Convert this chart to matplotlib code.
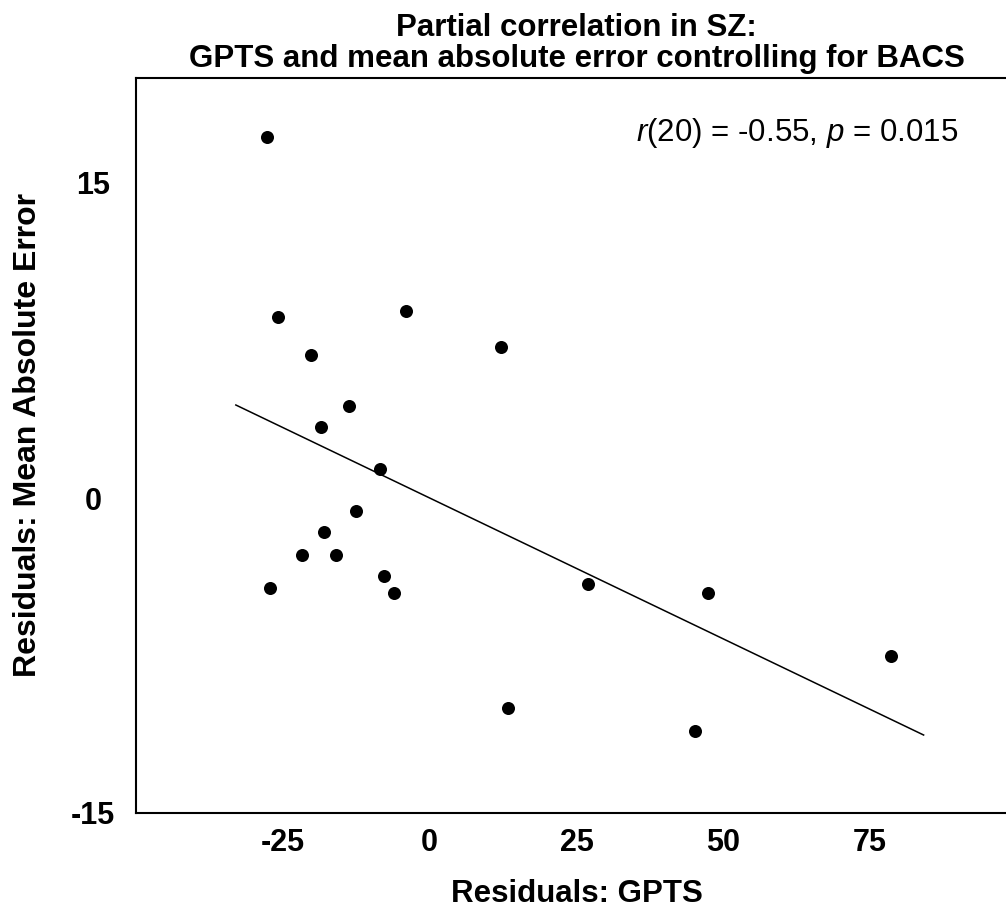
import numpy as np
import matplotlib
matplotlib.use('Agg')
import matplotlib.pyplot as plt

plt.rcParams['font.family'] = ['Liberation Sans', 'DejaVu Sans']
plt.rcParams['mathtext.fontset'] = 'custom'
plt.rcParams['mathtext.rm'] = 'Liberation Sans'
plt.rcParams['mathtext.it'] = 'Liberation Sans:italic'
plt.rcParams['axes.unicode_minus'] = False

# residuals
gpts_resid = [-27.7, -25.9, -20.2, -4.1, 12.2, -13.8, -18.5, -8.5, -12.6, -18.0,
              -21.8, -16.0, -7.8, -6.0, -27.2, 26.9, 47.4, 78.6, 13.3, 45.2]
mae_resid = [17.2, 8.6, 6.8, 8.9, 7.2, 4.4, 3.4, 1.4, -0.6, -1.6,
             -2.7, -2.7, -3.7, -4.5, -4.3, -4.1, -4.5, -7.5, -10.0, -11.1]

# fitted line as drawn
fit_slope = -0.1342
fit_intercept = 0.0
fit_x = [-33.0, 84.1]

x_ticks = [-25, 0, 25, 50, 75]
y_ticks = [-15, 0, 15]
stat_text = '$r$(20) = -0.55, $p$ = 0.015'

FS = 22.5

fig = plt.figure(figsize=(10.06, 9.08), dpi=100)
ax = fig.add_axes([136 / 1006, 1 - 813 / 908, (1017 - 136) / 1006, (813 - 78) / 908])

ax.scatter(gpts_resid, mae_resid, s=88, color='black', zorder=3, linewidths=0)
fx = np.array(fit_x)
ax.plot(fx, fit_slope * fx + fit_intercept, color='black', lw=1.1)

ax.set_xlim(-50, 100)
ax.set_ylim(-15, 20)
ax.set_xticks(x_ticks)
ax.set_yticks(y_ticks)
ax.tick_params(axis='both', length=0, labelsize=22)
ax.tick_params(axis='x', pad=11)
ax.tick_params(axis='y', pad=31)
for lab in ax.get_xticklabels() + ax.get_yticklabels():
    lab.set_fontweight('bold')
for lab in ax.get_yticklabels():
    lab.set_horizontalalignment('center')
for s in ax.spines.values():
    s.set_linewidth(1.5)

ax.set_xlabel('Residuals: GPTS', fontsize=FS, fontweight='bold', labelpad=15)
ax.set_ylabel('Residuals: Mean Absolute Error', fontsize=23, fontweight='bold')
ax.yaxis.set_label_coords(-0.106, 0.514)
ax.set_title('Partial correlation in SZ:\nGPTS and mean absolute error controlling for BACS',
             fontsize=FS, fontweight='bold', pad=8, linespacing=1.05)

ax.text(0.933, 0.925, stat_text, transform=ax.transAxes, ha='right', va='center', fontsize=FS)

fig.savefig('out.png', dpi=100)
